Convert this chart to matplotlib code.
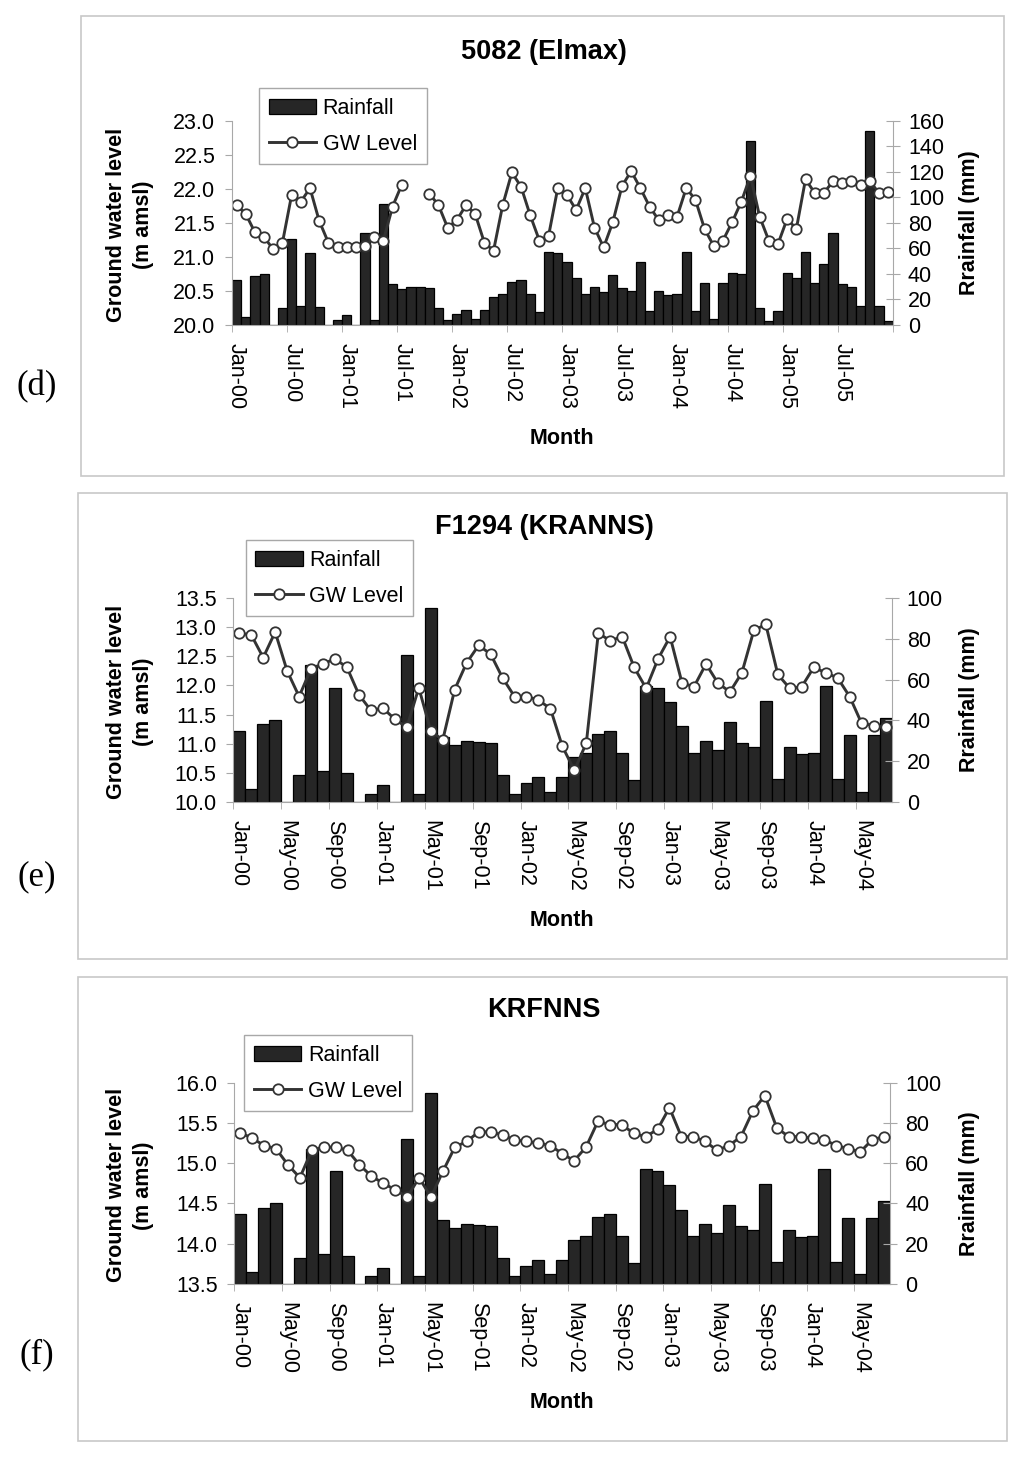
import numpy as np
import matplotlib
matplotlib.use('Agg')
import matplotlib.pyplot as plt
from matplotlib.patches import Rectangle
from matplotlib.ticker import FormatStrFormatter

# monthly rainfall (mm), Jan-00 .. Dec-05 (same station series in all panels)
rain = [35, 6, 38, 40, 0, 13, 67, 15, 56, 14, 0, 4,
        8, 0, 72, 4, 95, 32, 28, 30, 29.5, 29, 13, 4,
        9, 12, 5, 12, 22, 24, 33.5, 35, 24, 10.5, 57, 56,
        49, 37, 24, 30, 25.5, 39, 29, 27, 49.5, 11, 27, 23.5,
        24, 57, 11, 33, 5, 33, 41, 40, 144, 13, 3, 11,
        41, 37, 57, 33, 48, 72, 32, 29.5, 15, 152, 15, 3]

# ground water levels (m amsl)
gw_d = [21.76, 21.63, 21.36, 21.29, 21.11, 21.21, 21.91, 21.81, 22.01, 21.53, 21.21, 21.14,
        21.14, 21.14, 21.16, 21.29, 21.24, 21.74, 22.06, None, None, 21.93, 21.76, 21.43,
        21.54, 21.76, 21.63, 21.21, 21.09, 21.76, 22.24, 22.03, 21.61, 21.24, 21.31, 22.01,
        21.91, 21.69, 22.01, 21.43, 21.14, 21.51, 22.04, 22.26, 22.01, 21.74, 21.54, 21.62,
        21.59, 22.01, 21.84, 21.41, 21.16, 21.24, 21.51, 21.81, 22.19, 21.59, 21.24, 21.19,
        21.56, 21.41, 22.14, 21.94, 21.94, 22.11, 22.09, 22.11, 22.06, 22.11, 21.94, 21.96]

gw_e = [12.90, 12.87, 12.48, 12.92, 12.25, 11.81, 12.29, 12.37, 12.46, 12.31, 11.84, 11.57,
        11.61, 11.42, 11.28, 11.96, 11.22, 11.06, 11.93, 12.39, 12.69, 12.54, 12.13, 11.81,
        11.81, 11.75, 11.60, 10.95, 10.54, 11.01, 12.90, 12.77, 12.84, 12.31, 11.95, 12.46,
        12.84, 12.04, 11.98, 12.37, 12.04, 11.89, 12.22, 12.95, 13.05, 12.19, 11.95, 11.98,
        12.31, 12.22, 12.13, 11.81, 11.35, 11.31, 11.28]

gw_f = [15.38, 15.31, 15.22, 15.18, 14.98, 14.82, 15.16, 15.20, 15.20, 15.16, 14.98, 14.84,
        14.75, 14.67, 14.58, 14.82, 14.58, 14.90, 15.20, 15.27, 15.39, 15.39, 15.35, 15.29,
        15.27, 15.25, 15.22, 15.12, 15.03, 15.20, 15.52, 15.48, 15.48, 15.37, 15.33, 15.42,
        15.69, 15.33, 15.33, 15.27, 15.16, 15.22, 15.33, 15.65, 15.84, 15.44, 15.33, 15.33,
        15.31, 15.29, 15.22, 15.18, 15.14, 15.29, 15.33]

labels_d = ['Jan-00', 'Jul-00', 'Jan-01', 'Jul-01', 'Jan-02', 'Jul-02',
            'Jan-03', 'Jul-03', 'Jan-04', 'Jul-04', 'Jan-05', 'Jul-05']
labels_ef = ['Jan-00', 'May-00', 'Sep-00', 'Jan-01', 'May-01', 'Sep-01', 'Jan-02',
             'May-02', 'Sep-02', 'Jan-03', 'May-03', 'Sep-03', 'Jan-04', 'May-04']

W, H = 1024, 1458
plt.rcParams['font.family'] = ['Liberation Sans', 'DejaVu Sans']
fig = plt.figure(figsize=(W / 100, H / 100), dpi=100)

GRAY = '#a8a8a8'


def fx(x):
    return x / W


def fy(y):
    return 1 - y / H


def panel(plot, box, rain_vals, gw, gw_lim, rain_lim, labels, step,
          title, title_y, leg_xy, tag, tag_y, month_y):
    left, right, top, bottom = plot
    ax = fig.add_axes([fx(left), fy(bottom), (right - left) / W, (bottom - top) / H])
    n = len(rain_vals)
    x = np.arange(n)
    bars = ax.bar(x, rain_vals, width=1.0, color='#262626', edgecolor='black',
                  linewidth=0.9, label='Rainfall')
    ax.set_xlim(-0.5, n - 0.5)
    ax.set_ylim(*rain_lim)
    ax.set_yticks(np.arange(rain_lim[0], rain_lim[1] + 1, 20))

    ax2 = ax.twinx()
    ax.yaxis.tick_right()
    ax2.yaxis.tick_left()
    gw = np.array([np.nan if v is None else v for v in gw], dtype=float)
    line, = ax2.plot(x, gw, color='#333333', lw=2.1, marker='o', ms=7.5,
                     mfc='white', mec='#333333', mew=1.3, label='GW Level')
    ax2.set_ylim(*gw_lim)
    ax2.set_yticks(np.arange(gw_lim[0], gw_lim[1] + 0.01, 0.5))
    ax2.yaxis.set_major_formatter(FormatStrFormatter('%.1f'))

    for s in ['top', 'left']:
        ax.spines[s].set_visible(False)
    for s in ['right', 'bottom']:
        ax.spines[s].set_color(GRAY)
    for s in ['top', 'right', 'bottom']:
        ax2.spines[s].set_visible(False)
    ax2.spines['left'].set_color(GRAY)

    ax.set_xticks(np.arange(0, n, step))
    ax.set_xticklabels(labels, rotation=-90)
    ax.set_xticks(np.arange(-0.5, n, step), minor=True)
    ax.tick_params(axis='x', which='major', length=0, pad=13, labelsize=15.5)
    ax.tick_params(axis='x', which='minor', length=5, color=GRAY, direction='out')
    ax.tick_params(axis='y', which='major', direction='inout', length=10,
                   color=GRAY, labelsize=15.5, pad=6)
    ax2.tick_params(axis='y', direction='out', length=5, color=GRAY,
                    labelsize=15.5, pad=7)

    fig.legend([bars, line], ['Rainfall', 'GW Level'], loc='upper left',
               bbox_to_anchor=(fx(leg_xy[0]), fy(leg_xy[1])),
               bbox_transform=fig.transFigure, borderaxespad=0,
               frameon=True, fancybox=False, edgecolor=GRAY, framealpha=1,
               fontsize=15.5, handlelength=2.2, handletextpad=0.3,
               borderpad=0.45, labelspacing=0.7, numpoints=1)

    fig.add_artist(Rectangle((fx(box[0]), fy(box[3])), (box[2] - box[0]) / W,
                             (box[3] - box[1]) / H, transform=fig.transFigure,
                             fill=False, edgecolor='#c8c8c8', lw=1.2))

    mid = (top + bottom) / 2
    fig.text(fx(544), fy(title_y), title, ha='center', va='center',
             fontsize=19.5, fontweight='bold')
    fig.text(fx(130), fy(mid + 2), 'Ground water level\n(m amsl)', rotation=90,
             ha='center', va='center', multialignment='center',
             fontsize=15.5, fontweight='bold', linespacing=1.35)
    fig.text(fx(970), fy(mid), 'Rrainfall (mm)', rotation=90, ha='center',
             va='center', fontsize=15.5, fontweight='bold')
    fig.text(fx(562), fy(month_y), 'Month', ha='center', va='center',
             fontsize=15.5, fontweight='bold')
    fig.text(fx(37), fy(tag_y), tag, ha='center', va='center',
             fontsize=25, family=['Liberation Serif', 'DejaVu Serif'])


panel((232, 892.7, 120.7, 325), (81, 16, 1004, 476), rain, gw_d,
      (20.0, 23.0), (0, 160), labels_d, 6, '5082 (Elmax)', 51.7,
      (259, 88), '(d)', 387, 438)

panel((233.3, 891.5, 598.3, 801.7), (77.7, 493.3, 1007, 959.3), rain[:55], gw_e,
      (10.0, 13.5), (0, 100), labels_ef, 4, 'F1294 (KRANNS)', 526.7,
      (245.7, 540), '(e)', 877, 920)

panel((234.3, 890, 1082.7, 1284), (78.3, 976.7, 1006.7, 1441), rain[:55], gw_f,
      (13.5, 16.0), (0, 100), labels_ef, 4, 'KRFNNS', 1010,
      (244.3, 1035), '(f)', 1355, 1403)

fig.savefig('out.png', dpi=100, facecolor='white')
